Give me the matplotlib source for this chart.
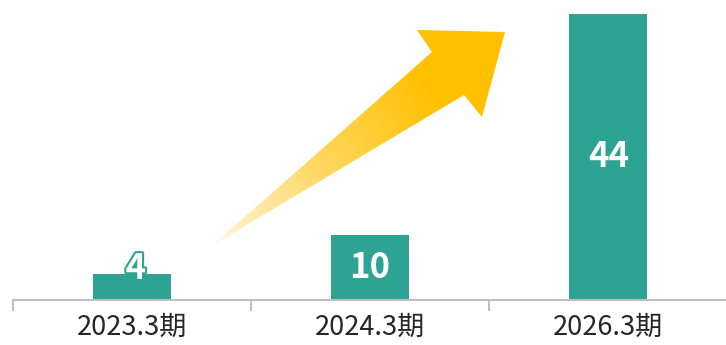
import numpy as np
import matplotlib
matplotlib.use("Agg")
import matplotlib.pyplot as plt
from matplotlib.patches import Polygon
from matplotlib.colors import LinearSegmentedColormap
import matplotlib.patheffects as pe

plt.rcParams['font.family'] = ['Noto Sans CJK JP', 'DejaVu Sans']

categories = ["2023.3期", "2024.3期", "2026.3期"]
values = [4, 10, 44]

TEAL = "#2DA493"
W, H = 726, 345
fig = plt.figure(figsize=(W / 100, H / 100), dpi=100)

# bar chart area: x spans from first to last category boundary, baseline 45 px from bottom
ax = fig.add_axes([12.5 / W, 45 / H, 715 / W, 300 / H])
x = np.arange(len(categories))
ax.bar(x, values, width=0.326, color=TEAL, zorder=2)
ax.set_xlim(-0.5, len(categories) - 0.5)
ax.set_ylim(0, 300 / 6.507)

for side in ("top", "right", "left"):
    ax.spines[side].set_visible(False)
ax.spines["bottom"].set_color("#BFBFBF")
ax.spines["bottom"].set_linewidth(1.5)
ax.set_yticks([])
ax.set_xticks(x)
ax.set_xticklabels(categories, fontsize=19.5, color="#262626")
ax.tick_params(axis="x", which="major", length=0, pad=10)
ax.set_xticks(np.arange(len(categories) + 1) - 0.5, minor=True)
ax.tick_params(axis="x", which="minor", length=8, width=1.5, color="#BFBFBF", direction="out")

for xi, v in zip(x, values):
    if v < 6:
        # small bar: value sits on top edge, outlined so it stays readable
        t = ax.annotate(str(v), (xi, v), xytext=(3, 4), textcoords="offset points",
                        ha="center", va="center", fontsize=25, fontweight="bold",
                        color="white", zorder=3)
        t.set_path_effects([pe.withStroke(linewidth=3, foreground=TEAL)])
    else:
        ax.text(xi, v / 2, str(v), ha="center", va="center", fontsize=25,
                fontweight="bold", color="white", zorder=3)

# decorative growth arrow with a pale-to-amber gradient (pixel coordinates)
ov = fig.add_axes([0, 0, 1, 1], zorder=5)
ov.set_xlim(0, W)
ov.set_ylim(H, 0)
ov.axis("off")
ov.patch.set_alpha(0)

tail = np.array([213, 245])
arrow_pts = [tail, (432, 52), (417, 30), (505, 32), (482, 117), (464, 95)]
poly = Polygon(arrow_pts, closed=True, facecolor="none", edgecolor="none")
ov.add_patch(poly)

tip = np.array([505, 32])
gx, gy = np.meshgrid(np.linspace(200, 520, 320), np.linspace(20, 255, 235))
d = tip - tail
t = ((gx - tail[0]) * d[0] + (gy - tail[1]) * d[1]) / (d @ d)
t = np.clip(t / 0.75, 0, 1)
cmap = LinearSegmentedColormap.from_list("amber", ["#FFF6DD", "#FFD75E", "#FFC000"])
im = ov.imshow(t, extent=(200, 520, 255, 20), cmap=cmap, vmin=0, vmax=1,
               interpolation="bilinear", aspect="auto")
im.set_clip_path(poly)
ov.set_xlim(0, W)
ov.set_ylim(H, 0)

fig.savefig("out.png", dpi=100, facecolor="white")
